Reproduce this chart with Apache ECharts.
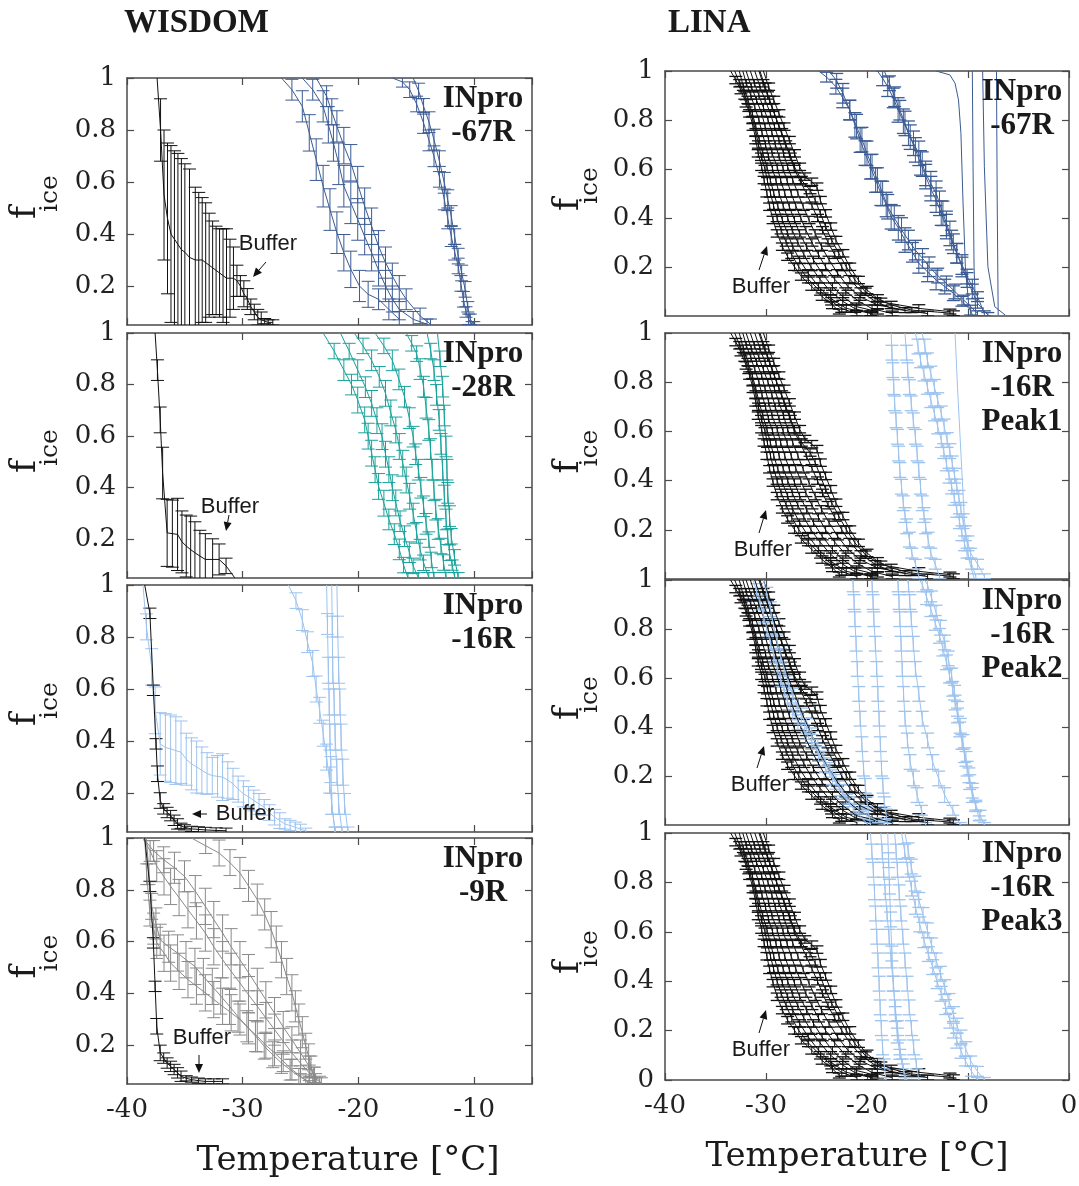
<!DOCTYPE html>
<html><head><meta charset="utf-8">
<script src="https://cdn.jsdelivr.net/npm/echarts@6.0.0/dist/echarts.min.js"></script>
<style>html,body{margin:0;padding:0;background:#fff}#c{width:1079px;height:1186px}</style>
</head><body><div id="c"></div>
<script>
// ---------------- DATA: [temperature °C, f_ice, error] ----------------
const xTicksLeft = [-40,-30,-20,-10];
const xTicksRight = [-40,-30,-20,-10,0];
const yTicks = [0.2,0.4,0.6,0.8,1];

// WISDOM INpro-67R
const wis67Buf = [[-37.4,1,0],[-37.1,0.8,0.12],[-36.8,0.55,0.25],[-36.5,0.46,0.29],[-36.2,0.4,0.34],[-35.9,0.38,0.34],[-35.6,0.36,0.35],[-35.3,0.34,0.35],[-35.0,0.33,0.34],[-34.6,0.31,0.34],[-34.1,0.3,0.28],[-33.8,0.3,0.26],[-33.5,0.3,0.24],[-33.2,0.29,0.23],[-32.9,0.28,0.2],[-32.6,0.27,0.18],[-32.3,0.26,0.17],[-32.0,0.25,0.17],[-31.7,0.24,0.18],[-31.4,0.23,0.19],[-31.1,0.23,0.15],[-30.8,0.23,0.12],[-30.5,0.22,0.06],[-30.2,0.2,0.04],[-29.9,0.17,0.05],[-29.6,0.15,0.04],[-29.3,0.12,0.03],[-29.0,0.1,0.03],[-28.7,0.08,0.03],[-28.4,0.07,0.03],[-28.1,0.065,0.01],[-27.8,0.06,0.01],[-27.4,0.06,0.01]];
const wis67A = [[-26.65,1,0],[-25.75,0.955,0.04],[-24.85,0.891,0.06],[-24.25,0.789,0.07],[-23.65,0.686,0.08],[-23.05,0.584,0.08],[-22.46,0.494,0.08],[-21.86,0.405,0.08],[-21.26,0.328,0.07],[-20.66,0.264,0.07],[-19.91,0.2,0.06],[-19.16,0.168,0.05],[-18.26,0.149,0.04],[-17.37,0.11,0.04],[-16.47,0.072,0.03]];
const wis67B = [[-24.85,1,0],[-23.95,0.955,0.04],[-23.05,0.891,0.06],[-22.6,0.82,0.07],[-22.16,0.75,0.07],[-21.7,0.67,0.08],[-21.26,0.584,0.08],[-20.66,0.52,0.08],[-20.06,0.456,0.08],[-19.46,0.39,0.07],[-18.86,0.328,0.07],[-18.26,0.26,0.06],[-17.66,0.2,0.06],[-17.07,0.15,0.05],[-16.47,0.11,0.04],[-15.27,0.072,0.03],[-14.07,0.053,0.02]];
const wis67C = [[-23.65,1,0],[-22.75,0.93,0.04],[-22.3,0.87,0.05],[-21.86,0.814,0.06],[-21.26,0.74,0.07],[-20.66,0.674,0.07],[-20.06,0.59,0.07],[-19.46,0.507,0.07],[-18.86,0.43,0.07],[-18.26,0.353,0.06],[-17.66,0.29,0.06],[-17.07,0.238,0.05],[-16.47,0.19,0.05],[-15.87,0.149,0.04],[-14.67,0.085,0.03],[-13.77,0.053,0.02]];
const wis67D = [[-17.07,1,0],[-16.2,0.985,0.02],[-15.57,0.955,0.03],[-14.97,0.9,0.03],[-14.37,0.827,0.04],[-13.9,0.76,0.04],[-13.47,0.699,0.04],[-13.0,0.62,0.04],[-12.58,0.533,0.04],[-12.28,0.46,0.04],[-11.98,0.392,0.04],[-11.68,0.33,0.03],[-11.38,0.277,0.03],[-11.15,0.21,0.03],[-10.93,0.149,0.03],[-10.7,0.1,0.02],[-10.48,0.072,0.02],[-10.18,0.053,0.01]];
const wis67E = [[-15.27,1,0],[-14.8,0.95,0.03],[-14.37,0.891,0.03],[-13.9,0.83,0.04],[-13.47,0.763,0.04],[-13.0,0.68,0.04],[-12.58,0.597,0.04],[-12.28,0.53,0.04],[-11.98,0.469,0.04],[-11.68,0.39,0.03],[-11.38,0.315,0.03],[-11.08,0.25,0.03],[-10.78,0.187,0.03],[-10.55,0.12,0.02],[-10.33,0.072,0.02],[-10.03,0.053,0.01]];

// WISDOM INpro-28R
const wis28Buf = [[-37.57,1,0],[-37.37,0.856,0.04],[-37.13,0.663,0.05],[-36.92,0.457,0.1],[-36.53,0.225,0.13],[-36.08,0.222,0.13],[-35.63,0.219,0.14],[-35.25,0.19,0.12],[-34.88,0.174,0.12],[-34.5,0.16,0.13],[-34.13,0.148,0.12],[-33.7,0.135,0.1],[-33.23,0.122,0.1],[-32.6,0.122,0.08],[-32.04,0.122,0.06],[-31.44,0.097,0.03],[-30.69,0.051,0]];
const wis28A = [[-23.05,1,0],[-22.1,0.93,0.03],[-21.26,0.856,0.04],[-20.6,0.8,0.04],[-20.06,0.74,0.05],[-19.46,0.663,0.05],[-19.16,0.6,0.05],[-18.86,0.534,0.05],[-18.56,0.47,0.05],[-18.26,0.405,0.05],[-17.8,0.34,0.05],[-17.37,0.277,0.04],[-16.9,0.22,0.04],[-16.47,0.161,0.04],[-16.1,0.1,0.03],[-15.72,0.051,0.02]];
const wis28B = [[-21.56,1,0],[-20.8,0.93,0.03],[-20.06,0.856,0.04],[-19.4,0.79,0.04],[-18.86,0.727,0.05],[-18.4,0.66,0.05],[-17.96,0.598,0.05],[-17.66,0.53,0.05],[-17.37,0.47,0.05],[-17.07,0.4,0.05],[-16.77,0.341,0.05],[-16.4,0.27,0.04],[-16.02,0.212,0.04],[-15.6,0.15,0.04],[-15.27,0.097,0.03],[-14.82,0.051,0.02]];
const wis28C = [[-20.36,1,0],[-19.6,0.95,0.03],[-18.86,0.894,0.04],[-18.2,0.83,0.04],[-17.66,0.766,0.05],[-17.2,0.69,0.05],[-16.77,0.624,0.05],[-16.47,0.56,0.05],[-16.17,0.495,0.05],[-15.87,0.43,0.05],[-15.57,0.367,0.05],[-15.27,0.3,0.04],[-14.97,0.225,0.04],[-14.67,0.16,0.04],[-14.37,0.109,0.03],[-13.92,0.051,0.02]];
const wis28D = [[-18.56,1,0],[-17.8,0.95,0.03],[-17.07,0.894,0.04],[-16.5,0.82,0.04],[-16.02,0.753,0.04],[-15.6,0.67,0.04],[-15.27,0.598,0.04],[-15.05,0.53,0.04],[-14.82,0.47,0.04],[-14.6,0.4,0.04],[-14.37,0.328,0.04],[-14.15,0.26,0.04],[-13.92,0.199,0.03],[-13.7,0.12,0.03],[-13.47,0.051,0.02]];
const wis28E = [[-15.87,1,0],[-15.4,0.96,0.03],[-14.97,0.92,0.03],[-14.67,0.86,0.04],[-14.37,0.792,0.04],[-14.15,0.71,0.04],[-13.92,0.624,0.04],[-13.77,0.55,0.04],[-13.62,0.47,0.04],[-13.47,0.39,0.04],[-13.32,0.315,0.04],[-13.1,0.24,0.04],[-12.87,0.174,0.03],[-12.65,0.11,0.03],[-12.43,0.051,0.02]];
const wis28F = [[-14.07,1,0],[-13.75,0.93,0.03],[-13.47,0.856,0.04],[-13.25,0.76,0.04],[-13.02,0.663,0.04],[-12.87,0.57,0.04],[-12.72,0.47,0.04],[-12.58,0.37,0.04],[-12.43,0.277,0.04],[-12.28,0.21,0.03],[-12.13,0.148,0.03],[-11.9,0.1,0.02],[-11.68,0.051,0.02]];
const wis28G = [[-13.17,1,0],[-12.95,0.9,0.03],[-12.72,0.792,0.04],[-12.58,0.68,0.04],[-12.43,0.56,0.04],[-12.35,0.47,0.04],[-12.28,0.38,0.04],[-12.13,0.29,0.04],[-11.98,0.212,0.03],[-11.7,0.13,0.03],[-11.38,0.051,0.02]];

// WISDOM INpro-16R
const wis16Buf = [[-38.47,1,0],[-38.02,0.891,0.02],[-37.72,0.595,0.02],[-37.49,0.389,0.02],[-37.37,0.274,0.03],[-37.13,0.171,0.03],[-36.83,0.139,0.02],[-36.53,0.125,0.02],[-36.23,0.113,0.02],[-35.93,0.095,0.02],[-35.63,0.081,0.02],[-35.33,0.074,0.01],[-35.03,0.068,0.01],[-34.43,0.062,0.01],[-33.83,0.06,0.01],[-33.23,0.058,0.01],[-32.3,0.056,0.01],[-31.44,0.055,0.01]];
const wis16Broad = [[-38.62,1,0],[-38.32,0.839,0.05],[-37.87,0.685,0.07],[-37.57,0.518,0.09],[-37.13,0.389,0.12],[-36.68,0.375,0.13],[-36.23,0.37,0.13],[-35.78,0.363,0.13],[-35.33,0.357,0.12],[-34.88,0.33,0.1],[-34.43,0.312,0.1],[-33.98,0.3,0.1],[-33.53,0.287,0.09],[-33.08,0.275,0.08],[-32.63,0.267,0.07],[-32.18,0.264,0.08],[-31.74,0.261,0.09],[-31.29,0.25,0.07],[-30.84,0.235,0.06],[-30.39,0.215,0.05],[-29.94,0.197,0.05],[-29.49,0.185,0.04],[-29.04,0.171,0.04],[-28.59,0.158,0.04],[-28.14,0.145,0.03],[-27.7,0.125,0.03],[-27.25,0.107,0.03],[-26.8,0.094,0.03],[-26.35,0.081,0.02],[-25.9,0.075,0.02],[-25.45,0.068,0.02],[-25.0,0.06,0.02],[-24.55,0.055,0.01]];
const wis16S = [[-26.05,1,0],[-25.4,0.94,0.03],[-24.85,0.865,0.04],[-24.4,0.78,0.04],[-23.95,0.698,0.05],[-23.65,0.6,0.05],[-23.35,0.518,0.05],[-23.05,0.43,0.05],[-22.75,0.338,0.05],[-22.5,0.25,0.05],[-22.31,0.158,0.04],[-22.01,0.049,0.02]];
const wis16V1 = [[-22.75,1,0],[-22.68,0.85,0.04],[-22.6,0.672,0.05],[-22.53,0.55,0.05],[-22.46,0.415,0.05],[-22.38,0.29,0.05],[-22.31,0.158,0.04],[-22.01,0.049,0.02]];
const wis16V2 = [[-22.31,1,0],[-22.26,0.84,0.04],[-22.22,0.672,0.05],[-22.1,0.55,0.05],[-22.01,0.415,0.05],[-21.86,0.28,0.05],[-21.71,0.158,0.04],[-21.41,0.049,0.02]];
const wis16V3 = [[-21.86,1,0],[-21.8,0.84,0.04],[-21.71,0.672,0.05],[-21.6,0.55,0.05],[-21.5,0.415,0.05],[-21.35,0.28,0.05],[-21.2,0.158,0.04],[-20.9,0.049,0.02]];

// WISDOM INpro-9R
const wis9Buf = [[-38.47,1,0],[-38.02,0.813,0.02],[-37.72,0.595,0.02],[-37.57,0.427,0.02],[-37.43,0.273,0.03],[-37.13,0.17,0.03],[-36.83,0.15,0.02],[-36.53,0.131,0.02],[-36.23,0.118,0.02],[-35.93,0.106,0.02],[-35.63,0.093,0.02],[-35.33,0.08,0.02],[-34.88,0.072,0.01],[-34.43,0.067,0.01],[-33.83,0.063,0.01],[-33.23,0.06,0.01],[-32.5,0.06,0.01],[-31.74,0.06,0.01]];
const wis9A = [[-34.43,1,0],[-33.2,0.97,0.03],[-32.04,0.942,0.05],[-31.1,0.905,0.05],[-30.24,0.865,0.06],[-29.5,0.815,0.06],[-28.74,0.762,0.06],[-28.1,0.705,0.06],[-27.54,0.646,0.07],[-27.1,0.59,0.07],[-26.65,0.53,0.07],[-26.2,0.465,0.07],[-25.75,0.402,0.07],[-25.45,0.35,0.06],[-25.15,0.299,0.06],[-24.85,0.25,0.06],[-24.55,0.196,0.05],[-24.3,0.155,0.05],[-24.1,0.118,0.04],[-23.9,0.085,0.03],[-23.65,0.054,0.02]];
const wis9B = [[-38.62,1,0],[-38.0,0.95,0.04],[-37.43,0.891,0.06],[-36.8,0.85,0.07],[-36.23,0.813,0.07],[-35.5,0.77,0.07],[-34.73,0.723,0.07],[-34.0,0.68,0.07],[-33.23,0.633,0.07],[-32.5,0.58,0.07],[-31.74,0.53,0.07],[-31.0,0.485,0.07],[-30.24,0.44,0.07],[-29.5,0.395,0.07],[-28.74,0.35,0.06],[-28.0,0.305,0.06],[-27.25,0.26,0.06],[-26.5,0.215,0.05],[-25.75,0.17,0.05],[-25.0,0.13,0.04],[-24.25,0.093,0.03],[-23.7,0.07,0.02],[-23.2,0.054,0.02]];
const wis9C = [[-38.62,1,0],[-37.7,0.95,0.04],[-36.83,0.916,0.05],[-35.9,0.885,0.06],[-35.03,0.852,0.06],[-34.1,0.795,0.06],[-33.23,0.736,0.07],[-32.5,0.685,0.07],[-31.74,0.633,0.07],[-31.0,0.58,0.07],[-30.24,0.53,0.07],[-29.5,0.48,0.07],[-28.74,0.427,0.07],[-28.0,0.375,0.07],[-27.25,0.324,0.06],[-26.5,0.27,0.06],[-25.75,0.221,0.05],[-25.0,0.17,0.05],[-24.25,0.118,0.04],[-23.8,0.085,0.03],[-23.35,0.06,0.02]];
const wis9D = [[-38.47,1,0],[-38.3,0.86,0.04],[-38.02,0.71,0.05],[-37.7,0.65,0.06],[-37.43,0.595,0.06],[-36.8,0.555,0.07],[-36.23,0.517,0.07],[-35.5,0.485,0.07],[-34.73,0.453,0.07],[-34.0,0.428,0.07],[-33.23,0.402,0.07],[-32.5,0.376,0.07],[-31.74,0.35,0.07],[-31.0,0.325,0.07],[-30.24,0.299,0.06],[-29.5,0.265,0.06],[-28.74,0.234,0.06],[-28.0,0.2,0.05],[-27.25,0.17,0.05],[-26.5,0.138,0.04],[-25.75,0.106,0.04],[-25.0,0.08,0.03],[-24.25,0.054,0.02]];
const wis9E = [[-38.32,1,0],[-38.1,0.86,0.04],[-37.87,0.736,0.05],[-37.5,0.67,0.06],[-37.13,0.607,0.06],[-36.4,0.58,0.06],[-35.63,0.556,0.07],[-34.9,0.53,0.07],[-34.13,0.504,0.07],[-33.4,0.465,0.07],[-32.63,0.427,0.07],[-31.9,0.39,0.07],[-31.14,0.35,0.07],[-30.4,0.31,0.06],[-29.64,0.273,0.06],[-28.9,0.235,0.06],[-28.14,0.196,0.05],[-27.4,0.163,0.05],[-26.65,0.131,0.04],[-25.9,0.105,0.04],[-25.15,0.08,0.03],[-24.55,0.065,0.02],[-23.95,0.054,0.02]];

// LINA buffer (same reference curves in every LINA panel)
const linaBufA = [[-33.5,1,0],[-32.99,0.963,0.015],[-32.48,0.922,0.015],[-31.97,0.868,0.015],[-31.62,0.827,0.015],[-31.28,0.773,0.015],[-31.01,0.718,0.015],[-30.77,0.664,0.015],[-30.43,0.609,0.015],[-30.19,0.555,0.015],[-29.91,0.501,0.015],[-29.64,0.446,0.015],[-29.3,0.392,0.015],[-28.89,0.337,0.015],[-28.38,0.283,0.015],[-27.86,0.242,0.015],[-27.18,0.201,0.015],[-26.5,0.161,0.015],[-25.47,0.12,0.015],[-24.44,0.079,0.015],[-23.42,0.045,0.015],[-22.74,0.018,0.01]];
const linaBufA2 = [[-33.1,1,0],[-32.6,0.95,0.015],[-32.1,0.9,0.015],[-31.7,0.85,0.015],[-31.3,0.8,0.015],[-31.0,0.75,0.015],[-30.75,0.7,0.015],[-30.45,0.65,0.015],[-30.1,0.6,0.015],[-29.85,0.55,0.015],[-29.55,0.5,0.015],[-29.25,0.45,0.015],[-28.9,0.4,0.015],[-28.5,0.35,0.015],[-28.0,0.3,0.015],[-27.45,0.25,0.015],[-26.75,0.2,0.015],[-25.8,0.15,0.015],[-24.6,0.1,0.015],[-23.5,0.06,0.015],[-22.5,0.03,0.015],[-21.0,0.01,0.01]];
const linaBufB = [[-32.65,1,0],[-32.24,0.936,0.015],[-31.79,0.882,0.015],[-31.35,0.827,0.015],[-31.01,0.773,0.015],[-30.67,0.718,0.015],[-30.32,0.664,0.015],[-29.91,0.609,0.015],[-29.57,0.555,0.015],[-29.23,0.501,0.015],[-28.82,0.446,0.015],[-28.38,0.392,0.015],[-27.86,0.337,0.015],[-27.35,0.283,0.015],[-26.67,0.229,0.015],[-25.81,0.174,0.015],[-24.79,0.12,0.015],[-23.59,0.072,0.015],[-22.05,0.031,0.015],[-19.66,0.011,0.01]];
const linaBufB2 = [[-32.3,1,0],[-31.95,0.95,0.015],[-31.5,0.9,0.015],[-31.1,0.85,0.015],[-30.7,0.8,0.015],[-30.4,0.75,0.015],[-30.05,0.7,0.015],[-29.75,0.65,0.015],[-29.35,0.6,0.015],[-29.0,0.55,0.015],[-28.7,0.5,0.015],[-28.3,0.45,0.015],[-27.85,0.4,0.015],[-27.4,0.35,0.015],[-26.85,0.3,0.015],[-26.25,0.25,0.015],[-25.55,0.2,0.015],[-24.65,0.15,0.015],[-23.6,0.1,0.015],[-22.4,0.06,0.015],[-21.2,0.03,0.015],[-19.5,0.01,0.01]];
const linaBufC = [[-31.97,1,0],[-31.45,0.936,0.015],[-30.94,0.882,0.015],[-30.43,0.827,0.015],[-30.09,0.773,0.015],[-29.74,0.718,0.015],[-29.4,0.664,0.015],[-28.89,0.609,0.015],[-28.55,0.555,0.015],[-28.14,0.501,0.015],[-27.69,0.446,0.015],[-27.18,0.392,0.015],[-26.67,0.337,0.015],[-25.98,0.283,0.015],[-25.3,0.229,0.015],[-24.44,0.174,0.015],[-23.42,0.12,0.015],[-22.39,0.079,0.015],[-21.03,0.038,0.015],[-18.97,0.018,0.01]];
const linaBufC2 = [[-31.55,1,0],[-31.15,0.95,0.015],[-30.7,0.9,0.015],[-30.25,0.85,0.015],[-29.8,0.8,0.015],[-29.42,0.75,0.015],[-29.08,0.7,0.015],[-28.7,0.65,0.015],[-28.3,0.6,0.015],[-27.9,0.55,0.015],[-27.5,0.5,0.015],[-27.05,0.45,0.015],[-26.55,0.4,0.015],[-26.05,0.35,0.015],[-25.45,0.3,0.015],[-24.8,0.25,0.015],[-24.1,0.2,0.015],[-23.2,0.15,0.015],[-22.1,0.1,0.015],[-20.8,0.06,0.015],[-19.5,0.03,0.015],[-17.5,0.01,0.01]];
const linaBufD = [[-31.11,1,0],[-30.6,0.936,0.015],[-30.09,0.882,0.015],[-29.57,0.827,0.015],[-29.16,0.773,0.015],[-28.72,0.718,0.015],[-28.27,0.664,0.015],[-27.86,0.609,0.015],[-27.35,0.555,0.015],[-26.84,0.501,0.015],[-26.32,0.446,0.015],[-25.74,0.392,0.015],[-25.13,0.337,0.015],[-24.51,0.283,0.015],[-23.76,0.229,0.015],[-22.91,0.174,0.015],[-21.88,0.12,0.015],[-20.68,0.079,0.015],[-18.97,0.045,0.015],[-16.24,0.024,0.01]];
const linaBufD2 = [[-30.7,1,0],[-30.3,0.95,0.015],[-29.85,0.9,0.015],[-29.4,0.85,0.015],[-28.95,0.8,0.015],[-28.45,0.75,0.015],[-28.05,0.7,0.015],[-27.6,0.65,0.015],[-27.2,0.6,0.015],[-26.6,0.55,0.015],[-26.0,0.5,0.015],[-25.45,0.45,0.015],[-24.9,0.4,0.015],[-24.4,0.35,0.015],[-23.85,0.3,0.015],[-23.2,0.25,0.015],[-22.5,0.2,0.015],[-21.7,0.15,0.015],[-20.6,0.1,0.015],[-19.2,0.06,0.015],[-17.5,0.03,0.015],[-14.0,0.01,0.01]];
const linaBufE = [[-30.6,1,0],[-30.09,0.936,0.015],[-29.64,0.882,0.015],[-29.16,0.827,0.015],[-28.72,0.773,0.015],[-28.21,0.718,0.015],[-27.69,0.664,0.015],[-27.18,0.609,0.015],[-26.5,0.555,0.015],[-25.64,0.514,0.015],[-25.13,0.473,0.015],[-24.62,0.419,0.015],[-24.1,0.365,0.015],[-23.49,0.31,0.015],[-22.8,0.256,0.015],[-22.05,0.201,0.015],[-21.2,0.147,0.015],[-20.17,0.099,0.015],[-18.63,0.058,0.015],[-14.87,0.031,0.015],[-11.79,0.018,0.01]];
const linaBufF = [[-30.26,1,0],[-29.74,0.936,0.015],[-29.23,0.882,0.015],[-28.72,0.827,0.015],[-28.21,0.773,0.015],[-27.69,0.718,0.015],[-27.18,0.664,0.015],[-26.67,0.609,0.015],[-26.15,0.569,0.015],[-25.47,0.548,0.015],[-24.96,0.528,0.015],[-24.62,0.473,0.015],[-24.1,0.419,0.015],[-23.59,0.365,0.015],[-23.08,0.31,0.015],[-22.39,0.256,0.015],[-21.71,0.201,0.015],[-20.85,0.147,0.015],[-20.0,0.106,0.015],[-18.97,0.072,0.015],[-17.61,0.045,0.015],[-15.56,0.024,0.01],[-11.45,0.011,0.01]];

// LINA INpro-67R
const lina67A = [[-24.79,1,0],[-24.0,0.975,0.02],[-23.08,0.936,0.03],[-22.4,0.89,0.04],[-21.71,0.841,0.04],[-21.2,0.78,0.05],[-20.68,0.718,0.05],[-20.2,0.665,0.05],[-19.66,0.609,0.05],[-19.15,0.555,0.05],[-18.63,0.501,0.05],[-18.1,0.455,0.05],[-17.61,0.405,0.05],[-16.9,0.36,0.05],[-16.24,0.31,0.05],[-15.5,0.26,0.04],[-14.87,0.215,0.04],[-14.0,0.18,0.04],[-13.16,0.147,0.04],[-12.3,0.12,0.03],[-11.45,0.093,0.03],[-10.6,0.06,0.02],[-9.74,0.024,0.02]];
const lina67B = [[-23.76,1,0],[-23.0,0.96,0.03],[-22.39,0.909,0.04],[-21.7,0.84,0.04],[-21.03,0.773,0.05],[-20.5,0.72,0.05],[-20.0,0.664,0.05],[-19.5,0.61,0.05],[-18.97,0.555,0.05],[-18.45,0.5,0.05],[-17.95,0.446,0.05],[-17.3,0.4,0.05],[-16.58,0.351,0.05],[-15.9,0.31,0.04],[-15.21,0.269,0.04],[-14.5,0.235,0.04],[-13.85,0.201,0.04],[-13.0,0.165,0.03],[-12.14,0.133,0.03],[-11.3,0.1,0.03],[-10.43,0.065,0.02],[-9.06,0.011,0.01]];
const lina67C = [[-18.97,1,0],[-18.45,0.97,0.03],[-17.95,0.936,0.04],[-17.4,0.89,0.04],[-16.92,0.841,0.05],[-16.4,0.795,0.05],[-15.9,0.746,0.05],[-15.4,0.705,0.05],[-14.87,0.664,0.05],[-14.53,0.62,0.05],[-14.19,0.582,0.05],[-13.68,0.54,0.05],[-13.16,0.501,0.05],[-12.82,0.46,0.05],[-12.48,0.419,0.05],[-12.14,0.378,0.05],[-11.79,0.337,0.05],[-11.45,0.295,0.04],[-11.11,0.256,0.04],[-10.6,0.21,0.04],[-10.09,0.161,0.03],[-9.57,0.12,0.03],[-9.06,0.079,0.02],[-8.38,0.011,0.01]];
const lina67D = [[-18.29,1,0],[-17.78,0.95,0.03],[-17.26,0.895,0.04],[-16.75,0.84,0.04],[-16.24,0.786,0.05],[-15.72,0.73,0.05],[-15.21,0.678,0.05],[-14.7,0.625,0.05],[-14.19,0.569,0.05],[-13.68,0.52,0.05],[-13.16,0.473,0.05],[-12.65,0.42,0.05],[-12.14,0.365,0.05],[-11.62,0.31,0.04],[-11.11,0.256,0.04],[-10.6,0.2,0.04],[-10.09,0.147,0.03],[-9.57,0.1,0.03],[-9.06,0.052,0.02],[-8.03,0.004,0.01]];
const lina67T1 = [[-13.16,1],[-11.79,0.984],[-11.28,0.95],[-10.94,0.882],[-10.7,0.746],[-10.5,0.473],[-10.26,0.201],[-9.91,0.038],[-9.57,0.004]];
const lina67T2 = [[-9.57,1],[-9.5,0.609],[-9.4,0.201],[-9.23,0.004]];
const lina67T3 = [[-8.55,1],[-8.38,0.609],[-8.03,0.201],[-7.35,0.038],[-6.32,0.004]];
const lina67T4 = [[-7.18,1],[-7.11,0.473],[-7.01,0.004]];

// LINA INpro-16R Peak1
const lina16p1A = [[-17.61,1,0],[-17.53,0.92,0.03],[-17.44,0.849,0.03],[-17.35,0.78,0.03],[-17.26,0.714,0.03],[-17.12,0.645,0.03],[-16.99,0.578,0.03],[-16.87,0.51,0.03],[-16.75,0.443,0.03],[-16.58,0.375,0.03],[-16.41,0.308,0.03],[-16.24,0.26,0.03],[-16.07,0.214,0.03],[-15.8,0.16,0.03],[-15.56,0.105,0.02],[-15.2,0.06,0.02],[-14.87,0.011,0.01]];
const lina16p1B = [[-16.24,1,0],[-16.1,0.92,0.03],[-15.97,0.849,0.03],[-15.8,0.78,0.03],[-15.62,0.714,0.03],[-15.42,0.645,0.03],[-15.21,0.578,0.03],[-15.04,0.51,0.03],[-14.87,0.443,0.03],[-14.7,0.375,0.03],[-14.53,0.308,0.03],[-14.36,0.26,0.03],[-14.19,0.214,0.03],[-13.95,0.16,0.03],[-13.68,0.105,0.02],[-13.25,0.06,0.02],[-12.82,0.011,0.01]];
const lina16p1C = [[-15.21,1,0],[-14.95,0.945,0.03],[-14.7,0.889,0.03],[-14.36,0.835,0.03],[-14.02,0.781,0.03],[-13.68,0.727,0.03],[-13.33,0.673,0.03],[-13.0,0.62,0.03],[-12.65,0.565,0.03],[-12.4,0.52,0.03],[-12.14,0.47,0.03],[-11.88,0.42,0.03],[-11.62,0.376,0.03],[-11.36,0.33,0.03],[-11.11,0.281,0.03],[-10.85,0.235,0.03],[-10.6,0.186,0.03],[-10.35,0.145,0.03],[-10.09,0.105,0.02],[-9.65,0.06,0.02],[-9.23,0.011,0.01]];
const lina16p1D = [[-14.53,1,0],[-14.27,0.945,0.03],[-14.02,0.889,0.03],[-13.68,0.835,0.03],[-13.33,0.781,0.03],[-13.0,0.727,0.03],[-12.65,0.673,0.03],[-12.36,0.62,0.03],[-12.07,0.565,0.03],[-11.8,0.52,0.03],[-11.56,0.47,0.03],[-11.33,0.42,0.03],[-11.11,0.376,0.03],[-10.9,0.33,0.03],[-10.7,0.281,0.03],[-10.48,0.235,0.03],[-10.26,0.186,0.03],[-10.0,0.145,0.03],[-9.74,0.105,0.02],[-9.05,0.06,0.02],[-8.38,0.011,0.01]];
const lina16p1T = [[-11.28,1],[-11.04,0.781],[-10.7,0.511],[-10.36,0.241],[-9.91,0.078],[-9.4,0.004]];

// LINA INpro-16R Peak2
const lina16p2A = [[-31.28,1,0],[-30.94,0.955,0.03],[-30.6,0.908,0.03],[-30.26,0.855,0.03],[-29.91,0.799,0.03],[-29.57,0.745,0.03],[-29.23,0.691,0.03],[-28.89,0.64,0.03],[-28.55,0.596,0.03],[-28.2,0.55,0.03],[-27.86,0.501,0.03],[-27.35,0.46,0.03],[-26.84,0.42,0.03],[-26.15,0.38,0.03],[-25.47,0.339,0.03],[-24.8,0.29,0.03],[-24.1,0.244,0.03],[-23.42,0.195,0.03],[-22.74,0.149,0.03],[-22.05,0.105,0.02],[-21.37,0.068,0.02],[-20.7,0.035,0.02],[-20.0,0.007,0.01]];
const lina16p2B = [[-30.26,1,0],[-29.91,0.94,0.03],[-29.57,0.881,0.03],[-29.23,0.81,0.03],[-28.89,0.745,0.03],[-28.55,0.69,0.03],[-28.21,0.637,0.03],[-27.78,0.58,0.03],[-27.35,0.528,0.03],[-26.92,0.49,0.03],[-26.5,0.447,0.03],[-25.98,0.405,0.03],[-25.47,0.366,0.03],[-24.87,0.32,0.03],[-24.27,0.271,0.03],[-23.68,0.225,0.03],[-23.08,0.176,0.03],[-22.4,0.135,0.03],[-21.71,0.095,0.02],[-20.85,0.065,0.02],[-20.0,0.041,0.02],[-19.15,0.02,0.01],[-18.29,0.007,0.01]];
const lina16p2C = [[-21.45,1,0],[-21.37,0.982,0.03],[-21.28,0.91,0.03],[-21.2,0.84,0.03],[-21.08,0.74,0.03],[-20.96,0.637,0.03],[-20.82,0.535,0.03],[-20.68,0.434,0.03],[-20.51,0.33,0.03],[-20.34,0.23,0.03],[-20.17,0.16,0.03],[-20.0,0.095,0.02],[-19.83,0.045,0.02],[-19.66,0.0,0.01]];
const lina16p2D = [[-19.55,1,0],[-19.49,0.982,0.03],[-19.4,0.91,0.03],[-19.32,0.84,0.03],[-19.18,0.74,0.03],[-19.04,0.637,0.03],[-18.92,0.535,0.03],[-18.8,0.434,0.03],[-18.68,0.33,0.03],[-18.56,0.23,0.03],[-18.42,0.16,0.03],[-18.29,0.095,0.02],[-18.12,0.045,0.02],[-17.95,0.0,0.01]];
const lina16p2E = [[-17.0,1,0],[-16.92,0.982,0.03],[-16.83,0.91,0.03],[-16.75,0.84,0.03],[-16.63,0.74,0.03],[-16.51,0.637,0.03],[-16.38,0.535,0.03],[-16.24,0.434,0.03],[-16.0,0.345,0.03],[-15.73,0.257,0.03],[-15.4,0.19,0.03],[-15.04,0.122,0.03],[-14.6,0.06,0.02],[-14.19,0.0,0.01]];
const lina16p2F = [[-16.0,1,0],[-15.9,0.982,0.03],[-15.76,0.91,0.03],[-15.62,0.84,0.03],[-15.42,0.74,0.03],[-15.21,0.637,0.03],[-14.87,0.535,0.03],[-14.53,0.434,0.03],[-14.0,0.345,0.03],[-13.5,0.257,0.03],[-12.9,0.19,0.03],[-12.31,0.122,0.03],[-11.5,0.06,0.02],[-10.77,0.0,0.01]];
const lina16p2G = [[-14.8,1,0],[-14.53,0.982,0.03],[-14.1,0.93,0.03],[-13.68,0.881,0.03],[-13.25,0.825,0.03],[-12.82,0.772,0.03],[-12.48,0.72,0.03],[-12.14,0.664,0.03],[-11.83,0.61,0.03],[-11.52,0.556,0.03],[-11.28,0.5,0.03],[-11.04,0.447,0.03],[-10.82,0.39,0.03],[-10.6,0.339,0.03],[-10.35,0.285,0.03],[-10.09,0.23,0.03],[-9.83,0.175,0.03],[-9.57,0.122,0.03],[-9.23,0.075,0.02],[-8.89,0.027,0.01]];
const lina16p2H = [[-14.3,1,0],[-14.02,0.982,0.03],[-13.6,0.925,0.03],[-13.16,0.867,0.03],[-12.73,0.805,0.03],[-12.31,0.745,0.03],[-11.96,0.68,0.03],[-11.62,0.61,0.03],[-11.33,0.54,0.03],[-11.04,0.474,0.03],[-10.77,0.405,0.03],[-10.5,0.339,0.03],[-10.2,0.27,0.03],[-9.91,0.203,0.03],[-9.57,0.14,0.03],[-9.23,0.081,0.02],[-8.8,0.04,0.02],[-8.38,0.0,0.01]];

// LINA INpro-16R Peak3
const lina16p3A = [[-19.66,1,0],[-19.52,0.925,0.03],[-19.38,0.851,0.03],[-19.26,0.76,0.03],[-19.15,0.674,0.03],[-19.03,0.58,0.03],[-18.91,0.484,0.03],[-18.8,0.39,0.03],[-18.7,0.294,0.03],[-18.58,0.21,0.03],[-18.46,0.132,0.03],[-18.3,0.065,0.02],[-18.12,0.0,0.01]];
const lina16p3B = [[-18.63,1,0],[-18.5,0.925,0.03],[-18.36,0.851,0.03],[-18.2,0.76,0.03],[-18.02,0.674,0.03],[-17.82,0.58,0.03],[-17.61,0.484,0.03],[-17.4,0.39,0.03],[-17.2,0.294,0.03],[-16.98,0.21,0.03],[-16.75,0.132,0.03],[-16.5,0.065,0.02],[-16.24,0.0,0.01]];
const lina16p3C = [[-17.26,1,0],[-17.12,0.925,0.03],[-16.99,0.851,0.03],[-16.82,0.76,0.03],[-16.65,0.674,0.03],[-16.45,0.58,0.03],[-16.24,0.484,0.03],[-16.03,0.39,0.03],[-15.83,0.294,0.03],[-15.6,0.21,0.03],[-15.38,0.132,0.03],[-15.12,0.065,0.02],[-14.87,0.0,0.01]];
const lina16p3D = [[-16.58,1,0],[-16.27,0.925,0.03],[-15.97,0.851,0.03],[-15.6,0.775,0.03],[-15.21,0.701,0.03],[-14.78,0.63,0.03],[-14.36,0.566,0.03],[-13.93,0.51,0.03],[-13.5,0.457,0.03],[-13.07,0.4,0.03],[-12.65,0.349,0.03],[-12.22,0.295,0.03],[-11.79,0.24,0.03],[-11.45,0.2,0.03],[-11.11,0.159,0.03],[-10.7,0.118,0.03],[-10.26,0.077,0.02],[-9.65,0.035,0.02],[-9.06,0.0,0.01]];
const lina16p3E = [[-16.24,1,0],[-15.93,0.93,0.03],[-15.62,0.864,0.03],[-15.25,0.795,0.03],[-14.87,0.729,0.03],[-14.45,0.668,0.03],[-14.02,0.606,0.03],[-13.6,0.545,0.03],[-13.16,0.484,0.03],[-12.73,0.43,0.03],[-12.31,0.376,0.03],[-11.88,0.32,0.03],[-11.45,0.267,0.03],[-11.08,0.22,0.03],[-10.7,0.172,0.03],[-10.22,0.125,0.03],[-9.74,0.077,0.02],[-9.06,0.035,0.02],[-8.38,0.0,0.01]];
const lina16p3F = [[-17.95,1,0],[-17.86,0.89,0.03],[-17.78,0.783,0.03],[-17.66,0.65,0.03],[-17.54,0.512,0.03],[-17.38,0.39,0.03],[-17.2,0.267,0.03],[-17.0,0.18,0.03],[-16.75,0.104,0.02],[-16.4,0.045,0.02],[-16.07,0.0,0.01]];

// ---------------- STYLE / LAYOUT ----------------
const COL = {black:'#111111', dblue:'#3b5b93', teal:'#1aa29b', lblue:'#9dc3ee', grey:'#8a8a8a'};
const linaBuf = [linaBufA,linaBufA2,linaBufB,linaBufB2,linaBufC,linaBufC2,linaBufD,linaBufD2,linaBufE,linaBufF].map(d=>['black',d]);
const panels = [
  {left:127,top:78,width:405,height:247,side:'L',bottom:false,label:['INpro','-67R'],
   curves:[['dblue',wis67A],['dblue',wis67B],['dblue',wis67C],['dblue',wis67D],['dblue',wis67E],['black',wis67Buf]]},
  {left:127,top:333,width:405,height:245,side:'L',bottom:false,label:['INpro','-28R'],
   curves:[['teal',wis28A],['teal',wis28B],['teal',wis28C],['teal',wis28D],['teal',wis28E],['teal',wis28F],['teal',wis28G],['black',wis28Buf]]},
  {left:127,top:585,width:405,height:247,side:'L',bottom:false,label:['INpro','-16R'],
   curves:[['lblue',wis16Broad],['lblue',wis16S],['lblue',wis16V1],['lblue',wis16V2],['lblue',wis16V3],['black',wis16Buf]]},
  {left:127,top:838,width:405,height:246,side:'L',bottom:true,label:['INpro','-9R'],
   curves:[['grey',wis9A],['grey',wis9B],['grey',wis9C],['grey',wis9D],['grey',wis9E],['black',wis9Buf]]},
  {left:665,top:71,width:404,height:245,side:'R',bottom:false,label:['INpro','-67R'],
   curves:[...linaBuf,['dblue',lina67A],['dblue',lina67B],['dblue',lina67C],['dblue',lina67D],
     ['dblue',lina67T1,1],['dblue',lina67T2,1],['dblue',lina67T3,1],['dblue',lina67T4,1]]},
  {left:665,top:333,width:404,height:246,side:'R',bottom:false,label:['INpro','-16R','Peak1'],
   curves:[...linaBuf,['lblue',lina16p1A],['lblue',lina16p1B],['lblue',lina16p1C],['lblue',lina16p1D],['lblue',lina16p1T,1]]},
  {left:665,top:580,width:404,height:245,side:'R',bottom:false,label:['INpro','-16R','Peak2'],
   curves:[...linaBuf,['lblue',lina16p2A],['lblue',lina16p2B],['lblue',lina16p2C],['lblue',lina16p2D],['lblue',lina16p2E],['lblue',lina16p2F],['lblue',lina16p2G],['lblue',lina16p2H]]},
  {left:665,top:833,width:404,height:247,side:'R',bottom:true,label:['INpro','-16R','Peak3'],
   curves:[...linaBuf,['lblue',lina16p3A],['lblue',lina16p3B],['lblue',lina16p3C],['lblue',lina16p3D],['lblue',lina16p3E],['lblue',lina16p3F]]}
];
const SERIF = '"DejaVu Serif", serif';
const AX = '#4a4a4a';

const grids=[], xAxes=[], yAxes=[], series=[];
panels.forEach((p,i)=>{
  grids.push({left:p.left, top:p.top, width:p.width, height:p.height, outerBoundsMode:'none', containLabel:false});
  const isL = p.side==='L';
  const xBase = {gridIndex:i, type:'value', min:-40, max: isL?-5:0, interval:10,
    axisLine:{show:true,onZero:false,lineStyle:{color:AX,width:1.5}},
    axisTick:{show:true,inside:true,length:7,lineStyle:{color:AX,width:1.2}},
    splitLine:{show:false}};
  xAxes.push(Object.assign({}, xBase, {position:'bottom',
    axisLabel:{show:p.bottom, margin:13, fontFamily:SERIF, fontSize:26, color:'#222',
      customValues: isL?xTicksLeft:xTicksRight}}));
  xAxes.push(Object.assign({}, xBase, {position:'top', axisLabel:{show:false}}));
  const yBase = {gridIndex:i, type:'value', min: isL?0.05:0, max:1,
    axisLine:{show:true,onZero:false,lineStyle:{color:AX,width:1.5}},
    axisTick:{show:true,inside:true,length:7,lineStyle:{color:AX,width:1.2}, customValues: (isL||!p.bottom)?yTicks:[0].concat(yTicks)},
    splitLine:{show:false}};
  yAxes.push(Object.assign({}, yBase, {position:'left',
    axisLabel:{show:true, margin:11, fontFamily:SERIF, fontSize:26, color:'#222',
      customValues: (!isL && p.bottom)?[0].concat(yTicks):yTicks,
      formatter:v=>String(Math.round(v*10)/10)}}));
  yAxes.push(Object.assign({}, yBase, {position:'right', axisLabel:{show:false}}));
  const hw = isL?6.5:6.5;
  const ew = isL?1:1.3;
  p.curves.forEach(c=>{
    const col = COL[c[0]], data=c[1], noErr=c[2];
    series.push({type:'line', xAxisIndex:2*i, yAxisIndex:2*i, data:data.map(d=>[d[0],d[1]]),
      showSymbol:false, symbol:'none', lineStyle:{color:col,width:1}, animation:false, silent:true, clip:true});
    if(!noErr){
      series.push({type:'custom', xAxisIndex:2*i, yAxisIndex:2*i, data:data, clip:true, silent:true, animation:false,
        renderItem:(params,api)=>{
          const x=api.value(0), y=api.value(1), e=api.value(2);
          if(!(e>0)) return null;
          const a=api.coord([x,y+e]), b=api.coord([x,y-e]);
          const st={stroke:col,lineWidth:ew};
          return {type:'group',children:[
            {type:'line',shape:{x1:a[0],y1:a[1],x2:b[0],y2:b[1]},style:{stroke:col,lineWidth:1}},
            {type:'line',shape:{x1:a[0]-hw,y1:a[1],x2:a[0]+hw,y2:a[1]},style:st},
            {type:'line',shape:{x1:b[0]-hw,y1:b[1],x2:b[0]+hw,y2:b[1]},style:st}]};
        }});
    }
  });
});

// ---------------- ANNOTATIONS ----------------
const G=[];
function txt(x,y,text,font,o){o=o||{};
  G.push({type:'text',x,y,rotation:o.rot||0,z:100,silent:true,
    style:{text,font,fill:o.fill||'#1a1a1a',align:o.align||'center',verticalAlign:o.va||'middle',
      textAlign:o.align||'center',textVerticalAlign:o.va||'middle',lineHeight:o.lh}});}
function arrow(x1,y1,x2,y2){
  const ang=Math.atan2(y2-y1,x2-x1), L=9, W=4;
  const bx=x2-L*Math.cos(ang), by=y2-L*Math.sin(ang);
  const px=-Math.sin(ang)*W, py=Math.cos(ang)*W;
  G.push({type:'line',z:100,silent:true,shape:{x1,y1,x2:bx,y2:by},style:{stroke:'#111',lineWidth:1}});
  G.push({type:'polygon',z:100,silent:true,shape:{points:[[x2,y2],[bx+px,by+py],[bx-px,by-py]]},style:{fill:'#111'}});
}
txt(124,23,'WISDOM','bold 33px "Liberation Serif", serif',{align:'left'});
txt(668,23,'LINA','bold 33px "Liberation Serif", serif',{align:'left'});
panels.forEach(p=>{
  const isL=p.side==='L', cy=p.top+p.height/2;
  const fx = isL?26:569, ix = isL?50:590;
  txt(fx,cy+11,'f','35px '+SERIF,{rot:Math.PI/2});
  txt(ix,cy-8,'ice','25px '+SERIF,{rot:Math.PI/2});
  txt(isL?483:1022, p.top+4, p.label.join('\n'), 'bold 31px "Liberation Serif", serif',{va:'top',lh:34});
});
txt(348,1161,'Temperature [°C]','34px '+SERIF);
txt(857,1157,'Temperature [°C]','34px '+SERIF);
const BF='22px "Liberation Sans", sans-serif';
[[268,244],[230,507],[245,814],[202,1038],[761,287],[763,550],[760,785],[761,1050]].forEach(b=>txt(b[0],b[1],'Buffer',BF));
arrow(266,262,253,277); arrow(229,515,226,531); arrow(207,814,192,814); arrow(199,1055,199,1073);
arrow(759,270,767,246); arrow(759,533,766,510); arrow(757,768,764,746); arrow(759,1033,766,1010);

const chart = echarts.init(document.getElementById('c'),null,{renderer:'canvas'});
chart.setOption({animation:false, backgroundColor:'#fff', grid:grids, xAxis:xAxes, yAxis:yAxes, series, graphic:{elements:G}});
</script></body></html>
